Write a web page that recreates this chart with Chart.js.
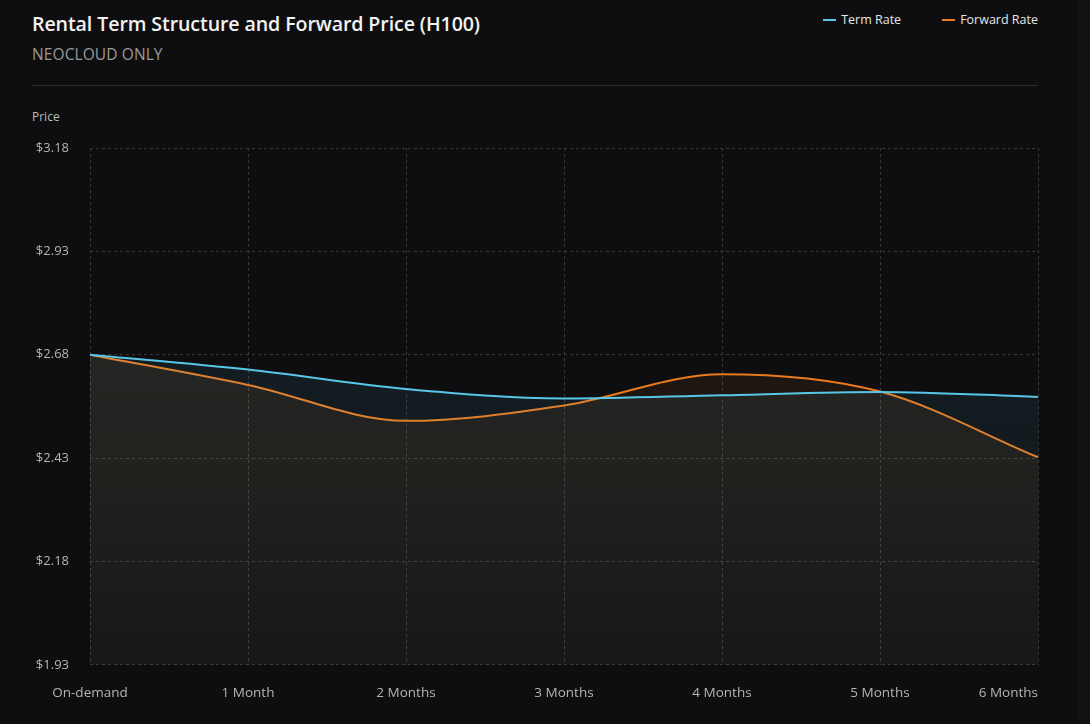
<!DOCTYPE html>
<html>
<head>
<meta charset="utf-8">
<script src="https://cdn.jsdelivr.net/npm/chart.js@4.4.1/dist/chart.umd.min.js"></script>
<style>
  html, body { margin: 0; padding: 0; background: #0e0e10; overflow: hidden; }
  body { width: 1090px; height: 724px; position: relative; font-family: "Open Sans", sans-serif; }
  #title { position: absolute; left: 32px; top: 10px; color: #f2f2f2; font-size: 19.6px; font-weight: 600; letter-spacing: -0.1px; }
  #subtitle { position: absolute; left: 32px; top: 43px; color: #9a9a9a; font-size: 15.5px; letter-spacing: 0.1px; }
  #rule { position: absolute; left: 32px; top: 85px; width: 1006px; height: 1px; background: #2a2a2c; }
  #ylabel { position: absolute; left: 32px; top: 108px; color: #bdbdbd; font-size: 12px; }
  #legend { position: absolute; right: 52px; top: 11px; display: flex; gap: 41px; color: #e6e6e6; font-size: 12.5px; }
  #legend span.item { display: flex; align-items: center; }
  #legend i { display: inline-block; width: 13px; height: 2px; margin-right: 5px; }
  #strip { position: absolute; right: 0; top: 0; width: 12px; height: 724px; background: #121214; }
  #wrap { position: absolute; left: 0; top: 0; width: 1090px; height: 724px; }
</style>
</head>
<body>
<div id="title">Rental Term Structure and Forward Price (H100)</div>
<div id="subtitle">NEOCLOUD ONLY</div>
<div id="legend"></div>
<div id="rule"></div>
<div id="ylabel">Price</div>
<div id="wrap"><canvas id="termChart"></canvas></div>
<div id="strip"></div>
<script>
/* ---------- data ---------- */
const terms       = ['On-demand', '1 Month', '2 Months', '3 Months', '4 Months', '5 Months', '6 Months'];
const termRate    = [2.68, 2.644, 2.597, 2.574, 2.582, 2.590, 2.578];
const forwardRate = [2.68, 2.607, 2.520, 2.557, 2.633, 2.591, 2.432];
const priceTicks  = [1.93, 2.18, 2.43, 2.68, 2.93, 3.18];

/* ---------- colours ---------- */
const COLORS = {
  term    : '#58c6e6',
  forward : '#ea7a1e',
  grid    : '#39393b',
  tick    : '#b4b4b4'
};

/* ---------- fading area fill ---------- */
const fade = (rgb, top, bottom) => ctx => {
  const area = ctx.chart.chartArea;
  if (!area) return `rgba(${rgb},${top})`;
  const g = ctx.chart.ctx.createLinearGradient(0, area.top, 0, area.bottom);
  g.addColorStop(0, `rgba(${rgb},${top})`);
  g.addColorStop(1, `rgba(${rgb},${bottom})`);
  return g;
};

/* ---------- keep the last x label inside the plot (right-aligned) ---------- */
const lastLabelRight = {
  id: 'lastLabelRight',
  beforeDraw (chart) {
    const items = chart.scales.x.getLabelItems(chart.chartArea);
    const last  = items[items.length - 1];
    if (last) last.options.textAlign = 'right';
  }
};

const series = [
  { label: 'Term Rate',    data: termRate,    color: COLORS.term,    rgb: '88,198,230' },
  { label: 'Forward Rate', data: forwardRate, color: COLORS.forward, rgb: '234,122,30' }
];

/* ---------- html legend ---------- */
document.getElementById('legend').innerHTML = series
  .map(s => `<span class="item"><i style="background:${s.color}"></i>${s.label}</span>`)
  .join('');

Chart.defaults.font.family = '"Open Sans", sans-serif';

new Chart(document.getElementById('termChart'), {
  type: 'line',
  data: {
    labels: terms,
    datasets: series.map(s => ({
      label: s.label,
      data: s.data,
      borderColor: s.color,
      borderWidth: 2,
      backgroundColor: fade(s.rgb, 0.12, 0.035),
      fill: 'start',
      cubicInterpolationMode: 'monotone',
      pointRadius: 0,
      pointHoverRadius: 0
    }))
  },
  options: {
    responsive: true,
    maintainAspectRatio: false,
    animation: false,
    layout: { padding: { left: 30, right: 52, top: 148, bottom: 3 } },
    plugins: { legend: { display: false }, tooltip: { enabled: false } },
    scales: {
      x: {
        grid: { color: COLORS.grid, drawTicks: false },
        border: { display: false, dash: [3, 3] },
        ticks: { color: COLORS.tick, font: { size: 13.5 }, padding: 20, maxRotation: 0 }
      },
      y: {
        min: priceTicks[0],
        max: priceTicks[priceTicks.length - 1],
        afterBuildTicks: s => { s.ticks = priceTicks.map(v => ({ value: v })); },
        afterFit: s => { s.width = 60; },
        grid: { color: COLORS.grid, drawTicks: false },
        border: { display: false, dash: [3, 3] },
        ticks: {
          color: COLORS.tick, font: { size: 13 }, padding: 21,
          callback: v => '$' + v.toFixed(2)
        }
      }
    }
  },
  plugins: [lastLabelRight]
});
</script>
</body>
</html>
